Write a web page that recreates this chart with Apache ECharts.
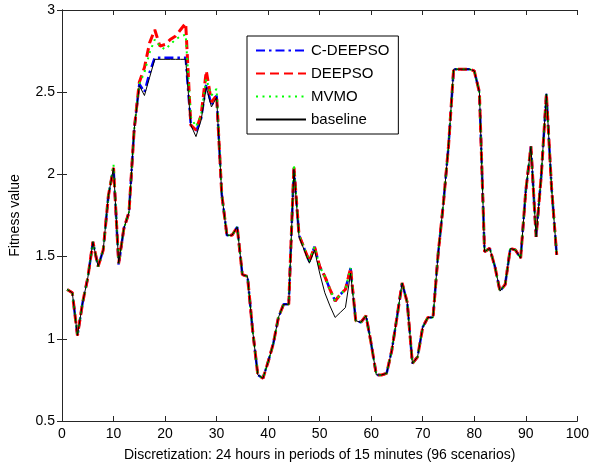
<!DOCTYPE html>
<html>
<head>
<meta charset="utf-8">
<script src="https://cdn.jsdelivr.net/npm/echarts@6/dist/echarts.min.js"></script>
<style>
  html, body { margin: 0; padding: 0; background: #fff; }
  #chart { width: 592px; height: 471px; }
</style>
</head>
<body>
<div id="chart"></div>
<script>
// scenario index 1..96
var scenarios = [];
for (var i = 1; i <= 96; i++) scenarios.push(i);

var baseline = [
  1.30, 1.28, 1.02, 1.22, 1.37, 1.59, 1.44, 1.54, 1.87, 2.04,
  1.46, 1.67, 1.77, 2.27, 2.54, 2.48, 2.59, 2.70, 2.70, 2.70,
  2.70, 2.70, 2.70, 2.70, 2.30, 2.23, 2.33, 2.53, 2.41, 2.47,
  1.88, 1.63, 1.63, 1.68, 1.39, 1.38, 1.05, 0.78, 0.76, 0.86,
  0.97, 1.13, 1.21, 1.21, 2.03, 1.62, 1.54, 1.46, 1.54, 1.40,
  1.28, 1.20, 1.13, 1.16, 1.19, 1.40, 1.11, 1.10, 1.14, 0.97,
  0.78, 0.78, 0.79, 0.93, 1.13, 1.34, 1.22, 0.85, 0.89, 1.07,
  1.13, 1.13, 1.52, 1.82, 2.17, 2.64, 2.64, 2.64, 2.64, 2.63,
  2.50, 1.53, 1.55, 1.44, 1.29, 1.33, 1.55, 1.54, 1.49, 1.90,
  2.17, 1.62, 1.99, 2.49, 1.92, 1.51
];

var cdeepso = [
  1.30, 1.28, 1.02, 1.22, 1.37, 1.59, 1.44, 1.54, 1.87, 2.04,
  1.45, 1.67, 1.77, 2.27, 2.55, 2.50, 2.62, 2.71, 2.71, 2.71,
  2.71, 2.71, 2.71, 2.71, 2.30, 2.26, 2.34, 2.55, 2.42, 2.48,
  1.88, 1.63, 1.63, 1.68, 1.39, 1.38, 1.05, 0.78, 0.76, 0.86,
  0.97, 1.13, 1.21, 1.21, 2.04, 1.63, 1.55, 1.47, 1.56, 1.44,
  1.38, 1.30, 1.23, 1.27, 1.30, 1.43, 1.11, 1.10, 1.14, 0.97,
  0.78, 0.78, 0.79, 0.93, 1.13, 1.34, 1.22, 0.85, 0.89, 1.07,
  1.13, 1.13, 1.52, 1.82, 2.17, 2.64, 2.64, 2.64, 2.64, 2.63,
  2.50, 1.53, 1.55, 1.44, 1.29, 1.33, 1.55, 1.54, 1.49, 1.90,
  2.17, 1.62, 1.99, 2.49, 1.92, 1.51
];

var deepso = [
  1.30, 1.28, 1.02, 1.22, 1.37, 1.59, 1.44, 1.54, 1.87, 2.04,
  1.46, 1.67, 1.77, 2.27, 2.56, 2.65, 2.80, 2.88, 2.78, 2.79,
  2.82, 2.84, 2.88, 2.92, 2.30, 2.27, 2.36, 2.63, 2.44, 2.48,
  1.88, 1.63, 1.63, 1.68, 1.39, 1.38, 1.05, 0.78, 0.76, 0.86,
  0.97, 1.13, 1.21, 1.21, 2.05, 1.63, 1.55, 1.47, 1.56, 1.44,
  1.38, 1.30, 1.23, 1.27, 1.30, 1.43, 1.11, 1.10, 1.14, 0.97,
  0.78, 0.78, 0.79, 0.93, 1.13, 1.34, 1.22, 0.85, 0.89, 1.07,
  1.13, 1.13, 1.52, 1.82, 2.17, 2.64, 2.64, 2.64, 2.64, 2.63,
  2.50, 1.53, 1.55, 1.44, 1.29, 1.33, 1.55, 1.54, 1.49, 1.90,
  2.17, 1.62, 1.99, 2.49, 1.92, 1.51
];

var mvmo = [
  1.30, 1.28, 1.02, 1.22, 1.37, 1.59, 1.44, 1.54, 1.87, 2.06,
  1.46, 1.67, 1.77, 2.27, 2.55, 2.62, 2.74, 2.82, 2.78, 2.76,
  2.79, 2.82, 2.84, 2.85, 2.35, 2.29, 2.36, 2.58, 2.48, 2.52,
  1.88, 1.63, 1.63, 1.68, 1.39, 1.38, 1.05, 0.78, 0.76, 0.86,
  0.97, 1.13, 1.21, 1.21, 2.06, 1.63, 1.55, 1.47, 1.56, 1.44,
  1.38, 1.30, 1.23, 1.27, 1.30, 1.43, 1.11, 1.10, 1.14, 0.97,
  0.78, 0.78, 0.79, 0.93, 1.13, 1.34, 1.22, 0.85, 0.89, 1.07,
  1.13, 1.13, 1.52, 1.82, 2.17, 2.64, 2.64, 2.64, 2.64, 2.63,
  2.50, 1.53, 1.55, 1.44, 1.29, 1.33, 1.55, 1.54, 1.49, 1.90,
  2.17, 1.62, 1.99, 2.49, 1.92, 1.51
];

function pairs(values) {
  return scenarios.map(function (x, k) { return [x, values[k]]; });
}

var font = 'Arial, "Liberation Sans", sans-serif';
var axisColor = '#262626';

var chart = echarts.init(document.getElementById('chart'));

var option = {
  backgroundColor: '#fff',
  animation: false,
  grid: { left: 60, right: 12, top: 10, bottom: 50 },
  legend: {
    orient: 'vertical',
    left: 247,
    top: 36,
    padding: [7, 9, 7, 8],
    itemWidth: 50,
    itemHeight: 14,
    itemGap: 8,
    borderColor: '#000',
    borderWidth: 1,
    backgroundColor: '#fff',
    itemStyle: { opacity: 0 },
    textStyle: { fontFamily: font, fontSize: 15, lineHeight: 14, color: '#000' },
    data: ['C-DEEPSO', 'DEEPSO', 'MVMO', 'baseline']
  },
  xAxis: [
    {
      type: 'value',
      min: 0,
      max: 100,
      interval: 10,
      name: 'Discretization: 24 hours in periods of 15 minutes (96 scenarios)',
      nameLocation: 'middle',
      nameGap: 27,
      nameTextStyle: { fontFamily: font, fontSize: 14, color: '#000' },
      axisLine: { lineStyle: { color: axisColor } },
      axisTick: { inside: true, length: 5, lineStyle: { color: axisColor } },
      axisLabel: { fontFamily: font, fontSize: 14, color: '#000', margin: 6 },
      splitLine: { show: false }
    },
    {
      type: 'value',
      position: 'top',
      min: 0,
      max: 100,
      interval: 10,
      axisLine: { lineStyle: { color: axisColor } },
      axisTick: { inside: true, length: 5, lineStyle: { color: axisColor } },
      axisLabel: { show: false },
      splitLine: { show: false }
    }
  ],
  yAxis: [
    {
      type: 'value',
      min: 0.5,
      max: 3,
      interval: 0.5,
      name: 'Fitness value',
      nameLocation: 'middle',
      nameGap: 40,
      nameTextStyle: { fontFamily: font, fontSize: 14, color: '#000' },
      axisLine: { show: true, lineStyle: { color: axisColor } },
      axisTick: { show: true, inside: true, length: 5, lineStyle: { color: axisColor } },
      axisLabel: { fontFamily: font, fontSize: 14, color: '#000', margin: 7 },
      splitLine: { show: false }
    },
    {
      type: 'value',
      position: 'right',
      min: 0.5,
      max: 3,
      interval: 0.5,
      axisLine: { show: true, lineStyle: { color: axisColor } },
      axisTick: { show: true, inside: true, length: 5, lineStyle: { color: axisColor } },
      axisLabel: { show: false },
      splitLine: { show: false }
    }
  ],
  series: [
    {
      name: 'C-DEEPSO',
      type: 'line',
      symbol: 'none',
      color: '#0000ff',
      lineStyle: { color: '#0000ff', width: 2.5, type: [9, 4, 2.5, 4] },
      data: pairs(cdeepso)
    },
    {
      name: 'DEEPSO',
      type: 'line',
      symbol: 'none',
      color: '#ff0000',
      lineStyle: { color: '#ff0000', width: 3, type: [9, 5] },
      data: pairs(deepso)
    },
    {
      name: 'MVMO',
      type: 'line',
      symbol: 'none',
      color: '#00ff00',
      lineStyle: { color: '#00ff00', width: 2, type: [2, 4.5] },
      data: pairs(mvmo)
    },
    {
      name: 'baseline',
      type: 'line',
      symbol: 'none',
      color: '#000000',
      lineStyle: { color: '#000000', width: 1 },
      data: pairs(baseline)
    }
  ]
};

chart.setOption(option);
</script>
</body>
</html>
